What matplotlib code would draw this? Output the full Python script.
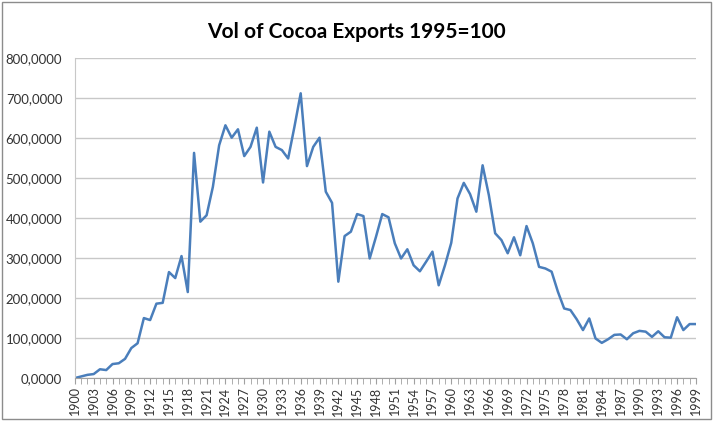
import matplotlib
matplotlib.use("Agg")
import matplotlib.pyplot as plt
from matplotlib.patches import Rectangle
from matplotlib.ticker import FuncFormatter, MultipleLocator

years = list(range(1900, 2000))
volume = [0, 4, 8, 10, 22, 20, 35, 37, 48, 75,
          87, 150, 145, 186, 188, 265, 250, 305, 215, 563,
          391, 407, 478, 582, 632, 601, 622, 555, 578, 626,
          489, 616, 578, 570, 549, 628, 712, 530, 578, 601,
          466, 438, 241, 355, 366, 410, 405, 299, 353, 410,
          402, 337, 299, 322, 282, 267, 291, 316, 232, 282,
          338, 449, 488, 460, 416, 532, 457, 362, 345, 312,
          352, 307, 380, 337, 278, 274, 266, 216, 174, 170,
          147, 120, 149, 99, 88, 97, 108, 109, 97, 112,
          118, 116, 103, 117, 102, 101, 152, 120, 135, 135]
label_years = years[::3]

plt.rcParams['font.family'] = ['Lato', 'DejaVu Sans']

fig = plt.figure(figsize=(7.13, 4.21), dpi=100)
ax = fig.add_axes([0.105, 0.102, 0.871, 0.760])

ax.plot(years, volume, color='#4a7ebb', linewidth=1.8)

ax.set_xlim(1900, 1999)
ax.set_ylim(0, 800)
ax.yaxis.set_major_locator(MultipleLocator(100))
ax.yaxis.set_major_formatter(FuncFormatter(lambda v, p: f"{v:.4f}".replace('.', ',')))
ax.grid(axis='y', color='#c8c8c8', linewidth=1)
ax.set_axisbelow(True)

ax.set_xticks(label_years)
ax.set_xticklabels([str(y) for y in label_years], rotation=90)
ax.set_xticks(years, minor=True)
ax.tick_params(axis='x', which='both', direction='out', length=4, color='#a0a0a0',
               labelsize=9, pad=2, labelcolor='#333333')
ax.tick_params(axis='y', length=0, labelsize=9.5, pad=9, labelcolor='#333333')

for s in ['top', 'right']:
    ax.spines[s].set_visible(False)
ax.spines['left'].set_color('#c8c8c8')
ax.spines['bottom'].set_color('#a0a0a0')

fig.text(0.5, 0.925, 'Vol of Cocoa Exports 1995=100', ha='center', va='center',
         fontsize=15, fontweight='bold')
fig.patches.append(Rectangle((0.003, 0.005), 0.994, 0.99, transform=fig.transFigure,
                             fill=False, edgecolor='#8c8c8c', linewidth=1))

fig.savefig('out.png', dpi=100)
